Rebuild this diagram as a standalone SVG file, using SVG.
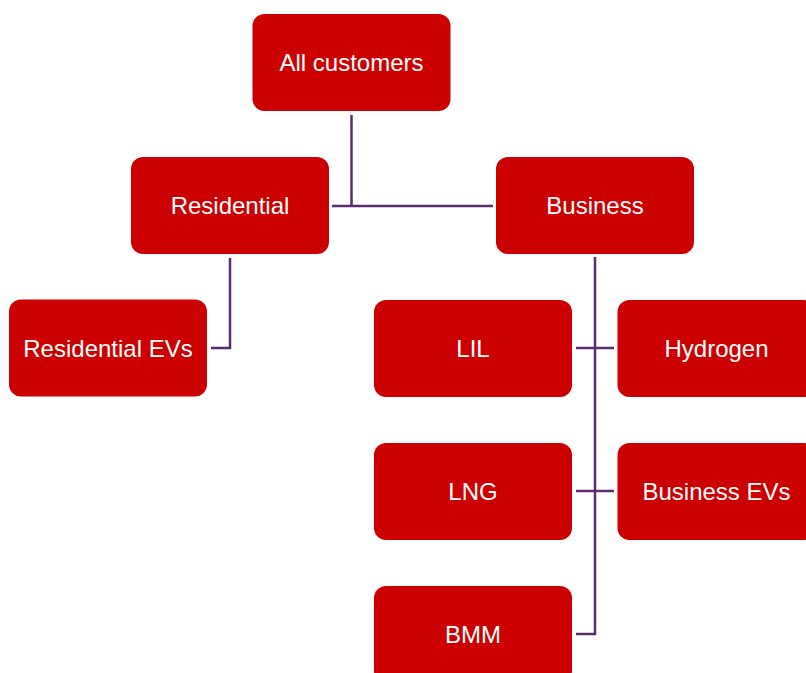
<svg xmlns="http://www.w3.org/2000/svg" width="806" height="673" viewBox="0 0 806 673">
<style>
.box{fill:#CC0000;}
.lbl{fill:#FFFFFF;font-family:"Liberation Sans",Arial,sans-serif;font-size:24px;text-anchor:middle;}
.con{fill:none;stroke:#5B2C6F;stroke-width:2.5;}
</style>
<rect width="806" height="673" fill="#FFFFFF"/>
<g id="connectors">
<path class="con" d="M351.5,115 V206"/>
<path class="con" d="M332,206 H493"/>
<path class="con" d="M230,258 V348 H211"/>
<path class="con" d="M595,257 V634 H576"/>
<path class="con" d="M576,348 H614"/>
<path class="con" d="M576,491 H614"/>
</g>
<g id="all-customers"><rect class="box" x="252.5" y="14" width="198" height="97" rx="12"/><text class="lbl" x="351.5" y="71">All customers</text></g>
<g id="residential"><rect class="box" x="131" y="157" width="198" height="97" rx="12"/><text class="lbl" x="230" y="214">Residential</text></g>
<g id="business"><rect class="box" x="496" y="157" width="198" height="97" rx="12"/><text class="lbl" x="595" y="214">Business</text></g>
<g id="residential-evs"><rect class="box" x="9" y="299.5" width="198" height="97" rx="12"/><text class="lbl" x="108" y="356.5">Residential EVs</text></g>
<g id="lil"><rect class="box" x="374" y="300" width="198" height="97" rx="12"/><text class="lbl" x="473" y="356.5">LIL</text></g>
<g id="hydrogen"><rect class="box" x="617.5" y="300" width="198" height="97" rx="12"/><text class="lbl" x="716.5" y="356.5">Hydrogen</text></g>
<g id="lng"><rect class="box" x="374" y="443" width="198" height="97" rx="12"/><text class="lbl" x="473" y="499.5">LNG</text></g>
<g id="business-evs"><rect class="box" x="617.5" y="443" width="198" height="97" rx="12"/><text class="lbl" x="716.5" y="499.5">Business EVs</text></g>
<g id="bmm"><rect class="box" x="374" y="586" width="198" height="97" rx="12"/><text class="lbl" x="473" y="642.5">BMM</text></g>
</svg>
